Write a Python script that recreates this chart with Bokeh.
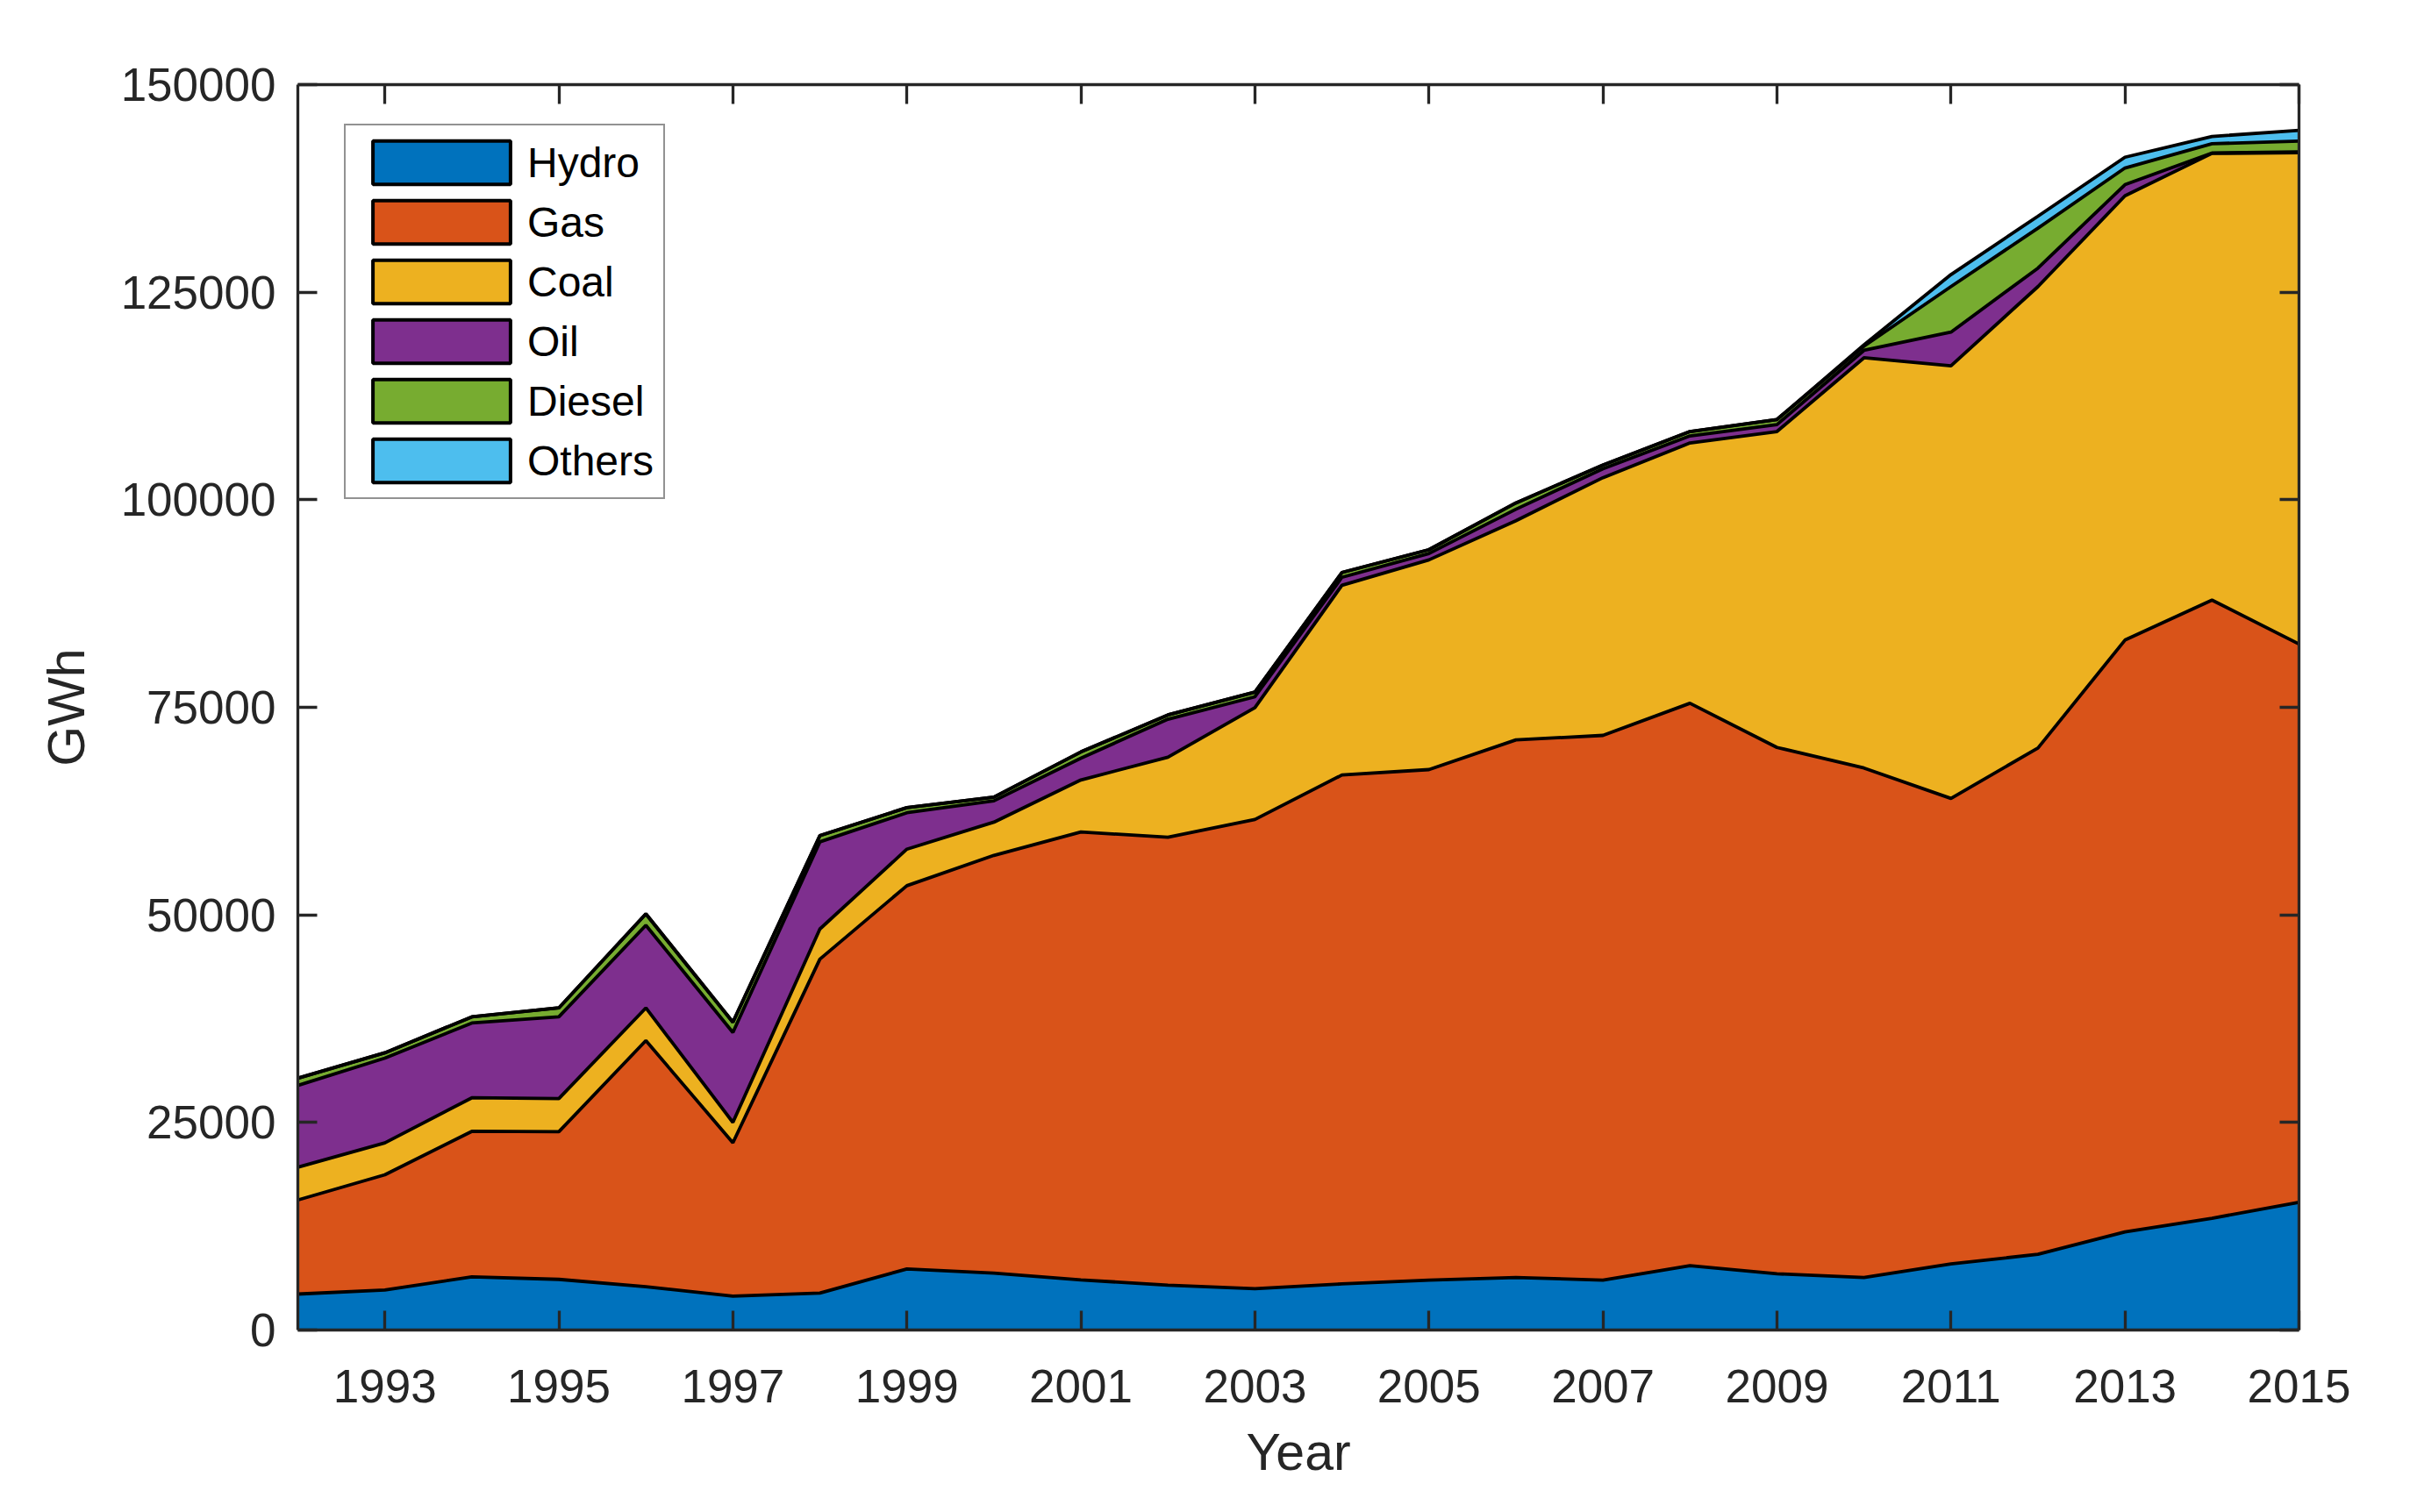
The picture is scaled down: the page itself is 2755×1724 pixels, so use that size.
from bokeh.plotting import figure
from bokeh.models import (ColumnDataSource, Range1d, FixedTicker, LinearAxis,
                          Legend, LegendItem, BasicTickFormatter)
from bokeh.embed import file_html
from bokeh.resources import INLINE

# ---------------- data (GWh) ----------------
years = list(range(1992, 2016))
hydro = [4330, 4820, 6400, 6100, 5220, 4090, 4450, 7350, 6860, 6040, 5410, 4980,
         5550, 6010, 6320, 6010, 7760, 6770, 6330, 7960, 9120, 11820, 13460, 15380]
gas = [11330, 13880, 17530, 17780, 29640, 18460, 40220, 46170, 50310, 53940, 53940, 56510,
       61300, 61490, 64760, 65610, 67730, 63400, 61360, 56070, 60980, 71280, 74460, 67240]
coal = [3940, 3840, 4040, 3990, 3940, 2460, 3630, 4400, 4000, 6270, 9650, 13470,
        22850, 25260, 26400, 31040, 31350, 38050, 49410, 52110, 55580, 53510, 53800, 59170]
oil = [9850, 10200, 9010, 9850, 9950, 10830, 10500, 4380, 2570, 2630, 4570, 1310,
       960, 770, 1380, 1070, 850, 830, 900, 4050, 2220, 1340, 50, 100]
diesel = [880, 650, 740, 1080, 1370, 1240, 750, 620, 440, 750, 510, 560,
          580, 460, 760, 450, 530, 620, 500, 5490, 4810, 2010, 1110, 1310]
others = [0, 0, 0, 0, 0, 0, 0, 0, 0, 0, 0, 0,
          0, 0, 0, 0, 0, 0, 150, 1440, 1450, 1300, 880, 1300]

series_names = ["Hydro", "Gas", "Coal", "Oil", "Diesel", "Others"]
colors = ["#0072BD", "#D95319", "#EDB120", "#7E2F8E", "#77AC30", "#4DBEEE"]
x_ticks = list(range(1993, 2016, 2))
y_ticks = [0, 25000, 50000, 75000, 100000, 125000, 150000]

source = ColumnDataSource(data=dict(year=years, Hydro=hydro, Gas=gas, Coal=coal,
                                    Oil=oil, Diesel=diesel, Others=others))

FONT = "Liberation Sans"
AX = "#262626"

p = figure(output_backend="svg", toolbar_location=None,
           frame_width=2281, frame_height=1420,
           min_border_left=339, min_border_right=112,
           min_border_top=96, min_border_bottom=190,
           x_range=Range1d(1992, 2015), y_range=Range1d(0, 150000),
           x_axis_label="Year", y_axis_label="GWh")
p.grid.visible = False
p.outline_line_color = None
p.background_fill_color = "white"
p.border_fill_color = "white"

p.varea_stack(stackers=series_names, x="year", color=colors, source=source)
p.vline_stack(stackers=series_names, x="year", color="black", line_width=3.8,
              source=source)

def style_axis(ax):
    ax.axis_line_color = AX
    ax.axis_line_width = 3.3
    ax.major_tick_line_color = AX
    ax.major_tick_line_width = 3.3
    ax.major_tick_in = 22
    ax.major_tick_out = 0
    ax.minor_tick_line_color = None
    ax.major_label_text_font = FONT
    ax.major_label_text_color = AX
    ax.major_label_text_font_size = "53px"
    ax.axis_label_text_font = FONT
    ax.axis_label_text_font_size = "59px"
    ax.axis_label_text_font_style = "normal"
    ax.axis_label_text_color = AX

xa = p.xaxis[0]
ya = p.yaxis[0]
xa.ticker = FixedTicker(ticks=x_ticks)
ya.ticker = FixedTicker(ticks=y_ticks)
xa.formatter = BasicTickFormatter(use_scientific=False)
ya.formatter = BasicTickFormatter(use_scientific=False)
style_axis(xa)
style_axis(ya)
xa.major_label_standoff = 45
xa.axis_label_standoff = 21
ya.major_label_standoff = 25
ya.axis_label_standoff = 26

top = LinearAxis(ticker=FixedTicker(ticks=x_ticks),
                 major_label_overrides={t: "" for t in x_ticks})
right = LinearAxis(ticker=FixedTicker(ticks=y_ticks),
                   major_label_overrides={t: "" for t in y_ticks})
for ax in (top, right):
    style_axis(ax)
    ax.major_label_standoff = 0
    ax.major_label_text_font_size = "1px"
p.add_layout(top, "above")
p.add_layout(right, "right")

# legend swatches: filled boxes with black outline (one NaN row, nothing drawn on the plot)
nan = float("nan")
items = []
for name, col in zip(series_names, colors):
    r = p.quad(left=[nan], right=[nan], top=[nan], bottom=[nan], fill_color=col,
               line_color="black", line_width=4)
    items.append(LegendItem(label=name, renderers=[r]))

legend = Legend(items=items, location=(53, 947))
legend.label_text_font = FONT
legend.label_text_font_size = "48px"
legend.label_text_color = "black"
legend.glyph_width = 196
legend.glyph_height = 62
legend.label_height = 62
legend.label_standoff = 0
legend.padding = 11
legend.spacing = 6
legend.margin = 0
legend.border_line_color = AX
legend.border_line_width = 2.5
legend.background_fill_color = "white"
legend.background_fill_alpha = 1.0
p.add_layout(legend, "center")

open("out.html", "w").write(file_html(p, INLINE))
